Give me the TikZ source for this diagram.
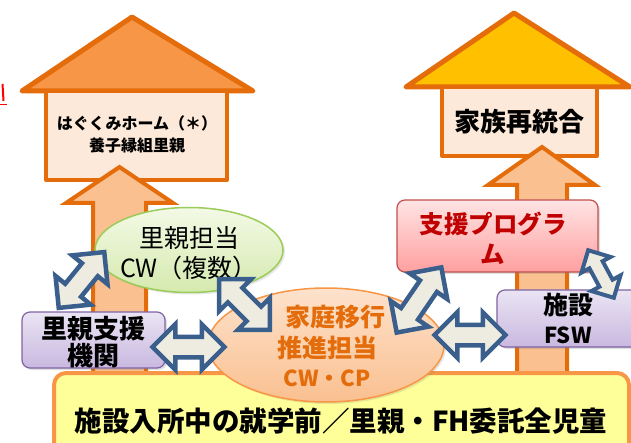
\documentclass[tikz,border=0pt]{standalone}
\usepackage{fontspec}
\setmainfont{Noto Sans CJK JP}
\usetikzlibrary{shapes.geometric,shapes.arrows,shadows}
\definecolor{orln}{HTML}{E46C0A}
\definecolor{roofL}{HTML}{F79646}
\definecolor{roofR}{HTML}{FFC000}
\definecolor{hbox}{HTML}{FDE9D9}
\definecolor{uparr}{HTML}{FAC090}
\definecolor{grnbd}{HTML}{9BCB59}
\definecolor{grntop}{HTML}{F3F9E6}
\definecolor{grnbot}{HTML}{D5EAAE}
\definecolor{orbd}{HTML}{F79646}
\definecolor{ortop}{HTML}{FDE2CC}
\definecolor{orbot}{HTML}{FAC090}
\definecolor{purbd}{HTML}{8064A2}
\definecolor{purtop}{HTML}{EAE4F3}
\definecolor{purbot}{HTML}{C9B8E0}
\definecolor{pinkbd}{HTML}{C0504D}
\definecolor{pinktop}{HTML}{FFE4E4}
\definecolor{pinkbot}{HTML}{FF9F9F}
\definecolor{redtxt}{HTML}{C00000}
\definecolor{ylw}{HTML}{FFFF99}
\definecolor{abd}{HTML}{3B5F8D}
\definecolor{afill}{HTML}{EEECE1}
\tikzset{
  roofshape/.style={draw=orln, line width=5pt, line join=round},
  housebox/.style={draw=orln, line width=4pt, fill=hbox, line join=round},
  uparrow/.style={draw=orln, line width=4pt, fill=uparr, line join=miter},
  txt/.style={inner sep=0pt, align=center},
  dbl/.style={double arrow, draw=abd, fill=afill, line width=4.5pt, inner sep=0pt,
    inner ysep=8pt, double arrow head extend=12.5pt, line join=miter},
  rbox/.style={rectangle, rounded corners=8pt, line width=1.2pt,
    drop shadow={opacity=0.25, shadow xshift=2pt, shadow yshift=-2pt}},
}
\begin{document}
\begin{tikzpicture}[x=1pt,y=-1pt]
\useasboundingbox (0,0) rectangle (631,443);
% left edge fragment
\fill[red] (1.5,84) -- (3.5,84) -- (4.5,101) -- (2.5,101) -- cycle;
\draw[red, line width=1pt] (0,105) -- (7,105);
% left house
\draw[roofshape, fill=roofL] (132,17) -- (253,91) -- (22,91) -- cycle;
\draw[housebox] (46,91) rectangle (227,180);
\node[txt, font=\bfseries\fontsize{16}{22}\selectfont] (hagu) at (137,134) {はぐくみホーム（＊）\\養子縁組里親};
\draw[uparrow] (119.5,167) -- (173,203) -- (146,203) -- (146,380) -- (93,380) -- (93,203) -- (66,203) -- cycle;
% right house
\draw[roofshape, fill=roofR] (514,13) -- (630,87) -- (406,87) -- cycle;
\draw[housebox] (442,87) rectangle (597,156);
\node[txt, font=\bfseries\fontsize{26}{30}\selectfont] (kazoku) at (519,122) {家族再統合};
\draw[uparrow] (542,147) -- (595,185) -- (567,185) -- (567,380) -- (517,380) -- (517,185) -- (488,185) -- cycle;
% bottom box
\draw[draw=orbd, line width=4pt, fill=ylw, rounded corners=12pt] (54,373) rectangle (629,460);
\node[txt, font=\bfseries\fontsize{27.5}{30}\selectfont] (zenjido) at (341,421) {施設入所中の就学前／里親・FH委託全児童};
% green ellipse
\node[ellipse, draw=grnbd, line width=1.5pt, top color=grntop, bottom color=grnbot,
  minimum width=188pt, minimum height=85pt, inner sep=0pt,
  drop shadow={opacity=0.2, shadow xshift=2pt, shadow yshift=-2pt}] (satooyaCW) at (189,250) {};
\node[txt, font=\fontsize{25}{30}\selectfont] (satooyaCWt) at (189,253) {里親担当\\CW（複数）};
% orange ellipse
\node[ellipse, draw=orbd, line width=1.5pt, top color=ortop, bottom color=orbot,
  minimum width=236pt, minimum height=114pt, inner sep=0pt,
  drop shadow={opacity=0.2, shadow xshift=2pt, shadow yshift=-2pt}] (katei) at (326,345) {};
\node[txt, text=orln, font=\bfseries\fontsize{25}{30}\selectfont] (katei1) at (335,317) {家庭移行};
\node[txt, text=orln, font=\bfseries\fontsize{25}{30}\selectfont] (katei2) at (327,348) {推進担当};
\node[txt, text=orln, font=\bfseries\fontsize{22}{30}\selectfont] (katei3) at (327,378) {CW・CP};
% purple box left
\node[rbox, draw=purbd, top color=purtop, bottom color=purbot,
  minimum width=143pt, minimum height=56pt] (shien) at (93.5,340) {};
\node[txt, font=\bfseries\fontsize{26}{27.5}\selectfont] (shient) at (93.5,342) {里親支援\\機関};
% pink box
\node[rbox, draw=pinkbd, top color=pinktop, bottom color=pinkbot,
  minimum width=201pt, minimum height=72pt] (program) at (497.5,236) {};
\node[txt, text=redtxt, font=\bfseries\fontsize{24.5}{30}\selectfont] (programt) at (493,238) {支援プログラ\\ム};
% purple box right
\node[rbox, draw=purbd, top color=purtop, bottom color=purbot,
  minimum width=150pt, minimum height=57pt] (shisetsu) at (572,318.5) {};
\node[txt, font=\bfseries\fontsize{25}{30}\selectfont] (shisetsu1) at (568,305) {施設};
\node[txt, font=\bfseries\fontsize{22}{30}\selectfont] (shisetsu2) at (568,335) {FSW};
% double arrows
\node[dbl, minimum height=72pt, rotate=50.8] (a1) at (81.5,280) {};
\node[dbl, minimum height=72pt, rotate=-45] (a2) at (244.5,304.5) {};
\node[dbl, minimum height=72pt] (a3) at (188.5,347) {};
\node[dbl, minimum height=79pt, rotate=55.6] (a4) at (419,300) {};
\node[dbl, minimum height=71pt] (a5) at (470,335) {};
\node[dbl, minimum height=54pt, inner ysep=5.5pt, double arrow head extend=9pt, line width=4pt, rotate=-61.7] (a6) at (601,274) {};
\end{tikzpicture}
\end{document}
